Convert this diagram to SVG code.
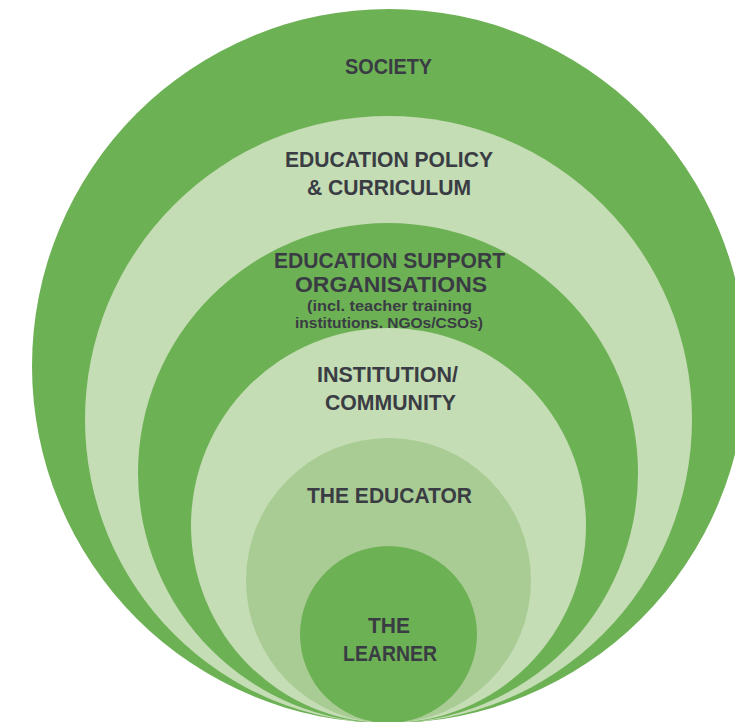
<svg xmlns="http://www.w3.org/2000/svg" width="735" height="722" viewBox="0 0 735 722">
<style>
.g{fill:#6db155}
.l{fill:#c4ddb4}
.m{fill:#a9cc94}
text{font-family:"Liberation Sans",Arial,sans-serif;font-weight:bold;fill:#3a3c44;text-anchor:middle}
.t{font-size:22px}
.s{font-size:15px}
</style>
<rect width="735" height="722" fill="#ffffff"/>
<g id="society">
<circle class="g" cx="389" cy="366" r="357"/>
<text class="t" x="388.5" y="74" textLength="87" lengthAdjust="spacingAndGlyphs">SOCIETY</text>
</g>
<g id="policy">
<circle class="l" cx="388.5" cy="419.5" r="303.5"/>
<text class="t" x="389" y="167" textLength="208" lengthAdjust="spacingAndGlyphs">EDUCATION POLICY</text>
<text class="t" x="389" y="195" textLength="164" lengthAdjust="spacingAndGlyphs">&amp; CURRICULUM</text>
</g>
<g id="support">
<circle class="g" cx="388" cy="473" r="250"/>
<text class="t" x="389.5" y="268" textLength="231" lengthAdjust="spacingAndGlyphs">EDUCATION SUPPORT</text>
<text class="t" x="391" y="292" textLength="192" lengthAdjust="spacingAndGlyphs">ORGANISATIONS</text>
<text class="s" x="389.5" y="311" textLength="165" lengthAdjust="spacingAndGlyphs">(incl. teacher training</text>
<text class="s" x="389" y="328" textLength="188" lengthAdjust="spacingAndGlyphs">institutions, NGOs/CSOs)</text>
</g>
<g id="institution">
<circle class="l" cx="388.5" cy="525.5" r="197.5"/>
<text class="t" x="387.5" y="382" textLength="141" lengthAdjust="spacingAndGlyphs">INSTITUTION/</text>
<text class="t" x="390.5" y="410" textLength="131" lengthAdjust="spacingAndGlyphs">COMMUNITY</text>
</g>
<g id="educator">
<circle class="m" cx="388.5" cy="580.5" r="142.5"/>
<text class="t" x="389.5" y="503" textLength="165" lengthAdjust="spacingAndGlyphs">THE EDUCATOR</text>
</g>
<g id="learner">
<circle class="g" cx="388.5" cy="634.5" r="88.5"/>
<text class="t" x="389" y="633" textLength="42" lengthAdjust="spacingAndGlyphs">THE</text>
<text class="t" x="390" y="661" textLength="94" lengthAdjust="spacingAndGlyphs">LEARNER</text>
</g>
<g id="connectors"/>
</svg>
